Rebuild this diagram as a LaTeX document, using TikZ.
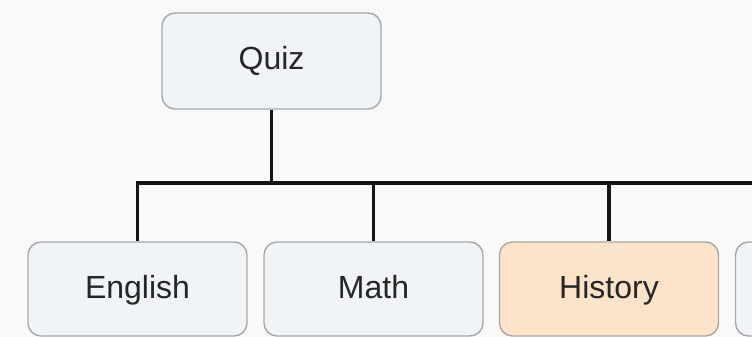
\documentclass[tikz,border=0pt]{standalone}
\usepackage{fontspec}
\setmainfont{Liberation Sans}
\definecolor{pagebg}{HTML}{F9F9F9}
\definecolor{boxfill}{HTML}{F0F4F7}
\definecolor{boxline}{HTML}{A8A8A8}
\definecolor{hilite}{HTML}{FCE3C9}
\definecolor{wire}{HTML}{151515}
\definecolor{ink}{HTML}{262626}
\begin{document}
\begin{tikzpicture}[x=1pt,y=-1pt,
  topic/.style={draw=boxline, line width=1.4pt, fill=boxfill, rounded corners=13pt,
    minimum width=219pt, minimum height=94pt, inner sep=0pt,
    text height=23pt, text depth=5pt,
    font=\fontsize{32}{36}\selectfont, text=ink},
  picked/.style={topic, fill=hilite},
  wireline/.style={draw=wire, line width=3.8pt}]
  \useasboundingbox (0,0) rectangle (752,337);
  \fill[pagebg] (0,0) rectangle (752,337);
  \clip (0,0) rectangle (752,337);
  % root and children
  \node[topic, minimum height=96pt] (quiz) at (271.5,61) {Quiz};
  \node[topic] (english) at (137.5,289) {English};
  \node[topic] (math) at (373.5,289) {Math};
  \node[picked] (history) at (609,289) {History};
  \node[topic] (more) at (845,289) {};
  % bus line between root and children
  \coordinate (bus) at (0,183);
  \foreach \c in {english,math,history,more}
    \draw[wireline] (quiz.south) -- (quiz.south |- bus) -| (\c.north);
\end{tikzpicture}
\end{document}
